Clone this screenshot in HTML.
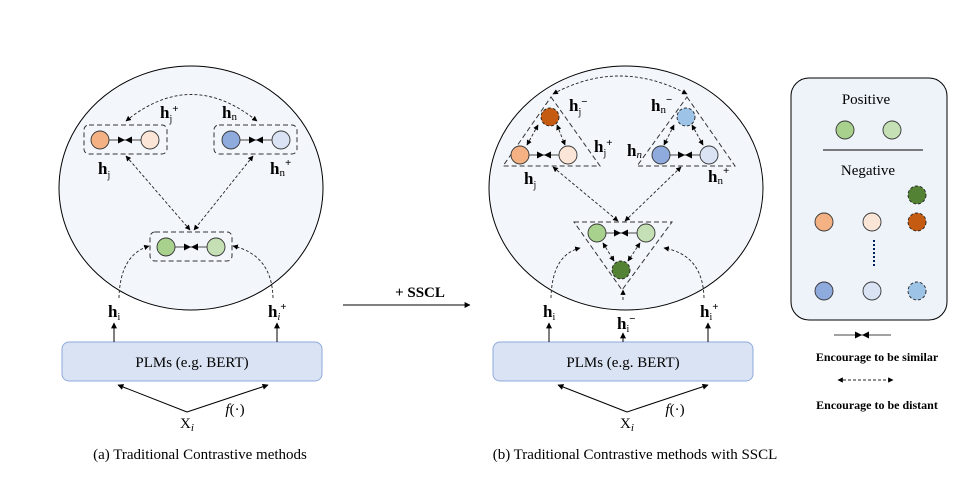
<!DOCTYPE html>
<html><head><meta charset="utf-8"><style>
body{margin:0;background:#fff}
svg text{font-family:"Liberation Serif",serif}
</style></head><body>
<svg width="968" height="473" viewBox="0 0 968 473" xmlns="http://www.w3.org/2000/svg">
<defs>
<marker id="a" viewBox="0 0 10 10" refX="9" refY="5" markerWidth="6" markerHeight="6" orient="auto-start-reverse"><path d="M0,0L10,5L0,10z" fill="#000"/></marker>
<marker id="s" viewBox="0 0 10 10" refX="10" refY="5" markerWidth="7" markerHeight="7" orient="auto"><path d="M0,0L10,5L0,10z" fill="#000"/></marker>
</defs>
<g stroke="#000" stroke-width="1">
<ellipse cx="191" cy="188" rx="132" ry="122" fill="#f3f7fc"/>
<ellipse cx="626" cy="188" rx="137" ry="122" fill="#f3f7fc"/>
<rect x="791" y="78" width="156" height="242" rx="18" fill="#eef3fa"/>
</g>
<g fill="none" stroke="#333" stroke-dasharray="5,3">
<rect x="84" y="125" width="83" height="29" rx="5"/>
<rect x="214" y="125" width="83" height="29" rx="5"/>
<rect x="150" y="232" width="82" height="29" rx="5"/>
</g>
<g fill="none" stroke="#222" stroke-dasharray="3,2" stroke-width="0.9">
<path d="M126,121 Q191,68 257,121" marker-start="url(#a)" marker-end="url(#a)"/>
<path d="M126,156 L190,230" marker-start="url(#a)" marker-end="url(#a)"/>
<path d="M253,156 L194,230" marker-start="url(#a)" marker-end="url(#a)"/>
<path d="M119,298 Q120,255 149,246" marker-end="url(#a)"/>
<path d="M273,298 Q272,255 233,246" marker-end="url(#a)"/>
<path d="M553,94 Q619,58 687,94" marker-start="url(#a)" marker-end="url(#a)"/>
<path d="M553,167 L618,221" marker-start="url(#a)" marker-end="url(#a)"/>
<path d="M681,167 L625,221" marker-start="url(#a)" marker-end="url(#a)"/>
<path d="M551,298 Q552,255 580,248" marker-end="url(#a)"/>
<path d="M704,298 Q703,255 664,248" marker-end="url(#a)"/>
<path d="M623,300 L623,290" marker-end="url(#a)"/>
<path d="M538,125 L527,145" marker-start="url(#a)" marker-end="url(#a)"/>
<path d="M557,125 L565,145" marker-start="url(#a)" marker-end="url(#a)"/>
<path d="M674,125 L664,145" marker-start="url(#a)" marker-end="url(#a)"/>
<path d="M692,125 L703,145" marker-start="url(#a)" marker-end="url(#a)"/>
<path d="M603,243 L614,261" marker-start="url(#a)" marker-end="url(#a)"/>
<path d="M640,243 L628,261" marker-start="url(#a)" marker-end="url(#a)"/>
<path d="M838,380 L893,380" marker-start="url(#a)" marker-end="url(#a)"/>
</g>
<g fill="none" stroke="#333" stroke-dasharray="5,3">
<path d="M551,97 L600,166 L503,166 Z"/>
<path d="M687,97 L735,166 L637,166 Z"/>
<path d="M574,222 L672,222 L622,290 Z"/>
</g>
<g stroke="#444" stroke-width="1" fill="none">
<path d="M109,140 L125,140" marker-end="url(#s)"/><path d="M141,140 L125,140" marker-end="url(#s)"/>
<path d="M240,140 L256,140" marker-end="url(#s)"/><path d="M272,140 L256,140" marker-end="url(#s)"/>
<path d="M175,247 L191,247" marker-end="url(#s)"/><path d="M207,247 L191,247" marker-end="url(#s)"/>
<path d="M529,155 L544,155" marker-end="url(#s)"/><path d="M559,155 L544,155" marker-end="url(#s)"/>
<path d="M670,155 L685,155" marker-end="url(#s)"/><path d="M700,155 L685,155" marker-end="url(#s)"/>
<path d="M606,233 L621,233" marker-end="url(#s)"/><path d="M637,233 L621,233" marker-end="url(#s)"/>
<path d="M834,335 L862,335" marker-end="url(#s)"/><path d="M891,335 L862,335" marker-end="url(#s)"/>
</g>
<g stroke="#333" stroke-width="0.9">
<circle cx="100" cy="140" r="9" fill="#f4b183"/><circle cx="150" cy="140" r="9" fill="#fbe5d6"/>
<circle cx="231" cy="140" r="9" fill="#8faadc"/><circle cx="281" cy="140" r="9" fill="#dae3f3"/>
<circle cx="166" cy="247" r="9" fill="#a9d18e"/><circle cx="216" cy="247" r="9" fill="#c5e0b4"/>
<circle cx="520" cy="155" r="9" fill="#f4b183"/><circle cx="568" cy="155" r="9" fill="#fbe5d6"/>
<circle cx="661" cy="155" r="9" fill="#8faadc"/><circle cx="709" cy="155" r="9" fill="#dae3f3"/>
<circle cx="597" cy="233" r="9" fill="#a9d18e"/><circle cx="646" cy="233" r="9" fill="#c5e0b4"/>
<circle cx="845" cy="130" r="9" fill="#a9d18e"/><circle cx="892" cy="130" r="9" fill="#c5e0b4"/>
<circle cx="824" cy="222" r="9" fill="#f4b183"/><circle cx="872" cy="222" r="9" fill="#fbe5d6"/>
<circle cx="824" cy="291" r="9" fill="#8faadc"/><circle cx="872" cy="291" r="9" fill="#dae3f3"/>
</g>
<g stroke="#222" stroke-width="0.9" stroke-dasharray="3,2">
<circle cx="550" cy="117" r="9" fill="#c55a11"/>
<circle cx="686" cy="117" r="9" fill="#9dc3e6"/>
<circle cx="621" cy="270" r="9" fill="#548235"/>
<circle cx="917" cy="195" r="9" fill="#548235"/>
<circle cx="917" cy="222" r="9" fill="#c55a11"/>
<circle cx="917" cy="291" r="9" fill="#9dc3e6"/>
</g>
<line x1="823" y1="150" x2="923" y2="150" stroke="#333" stroke-width="1.3"/>
<line x1="874" y1="240" x2="874" y2="266" stroke="#002060" stroke-width="2" stroke-dasharray="2,2"/>
<g stroke="#8faadc" fill="#dae3f3">
<rect x="62" y="342" width="260" height="39" rx="7"/>
<rect x="493" y="342" width="260" height="39" rx="7"/>
</g>
<g stroke="#000" stroke-width="1" fill="none">
<path d="M114,342 L114,323" marker-end="url(#a)"/><path d="M277,342 L277,323" marker-end="url(#a)"/>
<path d="M549,342 L549,323" marker-end="url(#a)"/><path d="M623,342 L623,333" marker-end="url(#a)"/><path d="M708,342 L708,323" marker-end="url(#a)"/>
<path d="M187,412 L118,385" marker-end="url(#a)"/><path d="M187,412 L268,385" marker-end="url(#a)"/>
<path d="M627,412 L558,385" marker-end="url(#a)"/><path d="M627,412 L708,385" marker-end="url(#a)"/>
<path d="M343,305 L470,305" marker-end="url(#a)"/>
</g>
<g font-size="15" text-anchor="middle" fill="#000">
<text x="192" y="367">PLMs (e.g. BERT)</text>
<text x="623" y="367">PLMs (e.g. BERT)</text>
<text x="200" y="459">(a) Traditional Contrastive methods</text>
<text x="635" y="459">(b) Traditional Contrastive methods with SSCL</text>
<text x="420" y="297" font-weight="bold">+ SSCL</text>
<text x="866" y="104">Positive</text>
<text x="868" y="175">Negative</text>
<text x="187" y="428">X<tspan font-size="11" font-style="italic" dy="3">i</tspan></text>
<text x="627" y="428">X<tspan font-size="11" font-style="italic" dy="3">i</tspan></text>
<text x="235" y="414" font-style="italic">f<tspan font-style="normal">(·)</tspan></text>
<text x="675" y="414" font-style="italic">f<tspan font-style="normal">(·)</tspan></text>
</g>
<g font-size="12" font-weight="bold" text-anchor="middle">
<text x="877" y="361">Encourage to be similar</text>
<text x="877" y="409">Encourage to be distant</text>
</g>
<g font-size="17" font-weight="bold" fill="#000">
<text x="160" y="118">h<tspan font-size="10" font-weight="normal" dy="4">j</tspan><tspan font-size="11" dy="-10">+</tspan></text>
<text x="222" y="118">h<tspan font-size="11" font-weight="normal" dy="2">n</tspan></text>
<text x="98" y="174">h<tspan font-size="10" font-weight="normal" dy="4">j</tspan></text>
<text x="270" y="174">h<tspan font-size="11" font-weight="normal" dy="2">n</tspan><tspan font-size="11" dy="-10">+</tspan></text>
<text x="108" y="317">h<tspan font-size="10" font-weight="normal" dy="3">i</tspan></text>
<text x="268" y="317">h<tspan font-size="10" font-style="italic" font-weight="normal" dy="3">i</tspan><tspan font-size="11" dy="-10">+</tspan></text>
<text x="569" y="111">h<tspan font-size="10" font-weight="normal" dy="4">j</tspan><tspan font-size="11" dy="-10">−</tspan></text>
<text x="594" y="152">h<tspan font-size="10" font-weight="normal" dy="4">j</tspan><tspan font-size="11" dy="-10">+</tspan></text>
<text x="524" y="184">h<tspan font-size="10" font-weight="normal" dy="4">j</tspan></text>
<text x="651" y="111">h<tspan font-size="11" font-weight="normal" dy="2">n</tspan><tspan font-size="11" dy="-10">−</tspan></text>
<text x="627" y="156">h<tspan font-size="11" font-style="italic" font-weight="normal" dy="2">n</tspan></text>
<text x="708" y="182">h<tspan font-size="11" font-weight="normal" dy="2">n</tspan><tspan font-size="11" dy="-10">+</tspan></text>
<text x="543" y="317">h<tspan font-size="10" font-weight="normal" dy="3">i</tspan></text>
<text x="617" y="329">h<tspan font-size="10" font-weight="normal" dy="3">i</tspan><tspan font-size="11" dy="-10">−</tspan></text>
<text x="700" y="317">h<tspan font-size="10" font-weight="normal" dy="3">i</tspan><tspan font-size="11" dy="-10">+</tspan></text>
</g>
</svg>
</body></html>
